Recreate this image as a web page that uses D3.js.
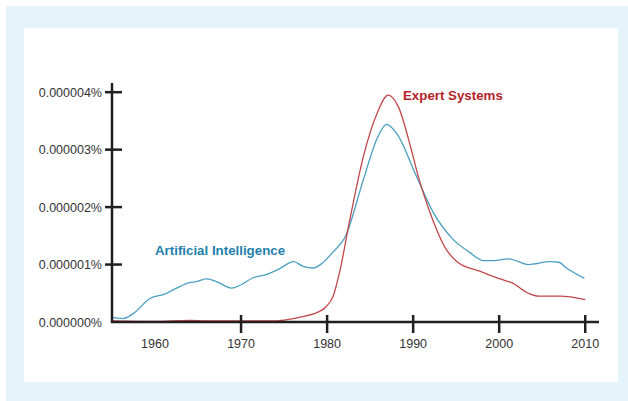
<!DOCTYPE html>
<meta charset="utf-8">
<script src="https://d3js.org/d3.v7.min.js"></script>
<style>
  body { margin: 0; background: #fff; }
  text { font-family: "Liberation Sans", Arial, sans-serif; }
</style>
<div id="my_dataviz"></div>
<script>

// values are in units of 0.000001%
var aiYears = [1955, 1956.3, 1957.5, 1959.4, 1961.2, 1962.5, 1964.1, 1964.7, 1966, 1967.2, 1968.9, 1969.9,
               1971.4, 1973, 1974.5, 1976.1, 1977.2, 1978.4, 1979.4, 1980.7, 1982.1, 1984.2, 1985.8,
               1986.9, 1988.1, 1990.4, 1992.4, 1994.7, 1996.5, 1998.2, 1999.4, 2001.1, 2003.4,
               2005.9, 2006.9, 2007.9, 2009.9];
var aiValues = [0.08, 0.06, 0.15, 0.41, 0.49, 0.59, 0.69, 0.70, 0.75, 0.70, 0.59, 0.64,
                0.77, 0.83, 0.93, 1.05, 0.97, 0.94, 1.02, 1.22, 1.48, 2.47, 3.19,
                3.44, 3.28, 2.53, 1.89, 1.43, 1.22, 1.07, 1.07, 1.10, 1.00,
                1.05, 1.04, 0.93, 0.76];

var esYears = [1955, 1960, 1964, 1966, 1970, 1974, 1975.7, 1977, 1978.4, 1979.9, 1980.7, 1981.5,
               1982.6, 1984.2, 1985.8, 1987.1, 1988.3, 1989.7, 1990.6, 1992, 1993.9, 1995.1,
               1997.8, 2000.1, 2001.5, 2003.4, 2004.6, 2007.1, 2010];
var esValues = [0.02, 0.01, 0.03, 0.02, 0.02, 0.02, 0.05, 0.09, 0.14, 0.27, 0.45, 0.90,
                1.75, 2.87, 3.63, 3.95, 3.74, 3.05, 2.53, 1.89, 1.25, 1.05,
                0.88, 0.75, 0.68, 0.50, 0.45, 0.45, 0.39];

var yTicks = [0, 1, 2, 3, 4];
var yTickLabels = ["0.000000%", "0.000001%", "0.000002%", "0.000003%", "0.000004%"];
var xTickLabels = [1960, 1970, 1980, 1990, 2000, 2010];
var xTickMarks = [1970, 1980, 1990, 2000, 2010];

var seriesNames = ["Artificial Intelligence", "Expert Systems"];

var width = 628, height = 401;

var svg = d3.select("#my_dataviz")
  .append("svg")
    .attr("width", width)
    .attr("height", height);

// panel background
svg.append("rect")
  .attr("x", 6).attr("y", 6)
  .attr("width", width - 6).attr("height", height - 6)
  .attr("fill", "#e5f3fb");
svg.append("rect")
  .attr("x", 24).attr("y", 28)
  .attr("width", 594).attr("height", 354)
  .attr("fill", "#ffffff");

var x = d3.scaleLinear()
  .domain([1955, 2011.6])
  .range([112, 599]);

var y = d3.scaleLinear()
  .domain([0, 4.16])
  .range([322, 83]);

var line = d3.line()
  .x(function(d) { return x(d[0]); })
  .y(function(d) { return y(d[1]); })
  .curve(d3.curveMonotoneX);

var aiData = aiYears.map(function(t, i) { return [t, aiValues[i]]; });
var esData = esYears.map(function(t, i) { return [t, esValues[i]]; });

svg.append("path")
  .datum(aiData)
  .attr("d", line)
  .attr("fill", "none")
  .attr("stroke", "#4a9fc2")
  .attr("stroke-width", 1.3);

svg.append("path")
  .datum(esData)
  .attr("d", line)
  .attr("fill", "none")
  .attr("stroke", "#c2474b")
  .attr("stroke-width", 1.3);

// axes
var axisColor = "#231f20";
svg.append("line")
  .attr("x1", x(1955)).attr("x2", x(1955))
  .attr("y1", y(4.16)).attr("y2", y(0) + 1)
  .attr("stroke", axisColor).attr("stroke-width", 2.5);
svg.append("line")
  .attr("x1", x(1955) - 1).attr("x2", x(2011.6))
  .attr("y1", y(0)).attr("y2", y(0))
  .attr("stroke", axisColor).attr("stroke-width", 2.5);

svg.selectAll(".ytick")
  .data(yTicks.slice(1))
  .enter().append("line")
    .attr("x1", x(1955) - 7).attr("x2", x(1955) + 10)
    .attr("y1", function(d) { return y(d); })
    .attr("y2", function(d) { return y(d); })
    .attr("stroke", axisColor).attr("stroke-width", 2.5);

svg.selectAll(".ylabel")
  .data(yTicks)
  .enter().append("text")
    .attr("x", 102)
    .attr("y", function(d) { return y(d); })
    .attr("dy", "0.36em")
    .attr("text-anchor", "end")
    .attr("font-size", 12.5)
    .attr("fill", "#333")
    .text(function(d, i) { return yTickLabels[i]; });

svg.selectAll(".xtick")
  .data(xTickMarks)
  .enter().append("line")
    .attr("x1", function(d) { return x(d); })
    .attr("x2", function(d) { return x(d); })
    .attr("y1", y(0) - 7).attr("y2", y(0) + 11)
    .attr("stroke", axisColor).attr("stroke-width", 2.5);

svg.selectAll(".xlabel")
  .data(xTickLabels)
  .enter().append("text")
    .attr("x", function(d) { return x(d); })
    .attr("y", 348)
    .attr("text-anchor", "middle")
    .attr("font-size", 12.5)
    .attr("fill", "#333")
    .text(function(d) { return d; });

// series labels
svg.append("text")
  .attr("x", 155).attr("y", 255)
  .attr("font-size", 13.3).attr("font-weight", "bold")
  .attr("fill", "#1f7fab")
  .text(seriesNames[0]);

svg.append("text")
  .attr("x", 403).attr("y", 100)
  .attr("font-size", 13.3).attr("font-weight", "bold")
  .attr("fill", "#b5242a")
  .text(seriesNames[1]);

</script>
